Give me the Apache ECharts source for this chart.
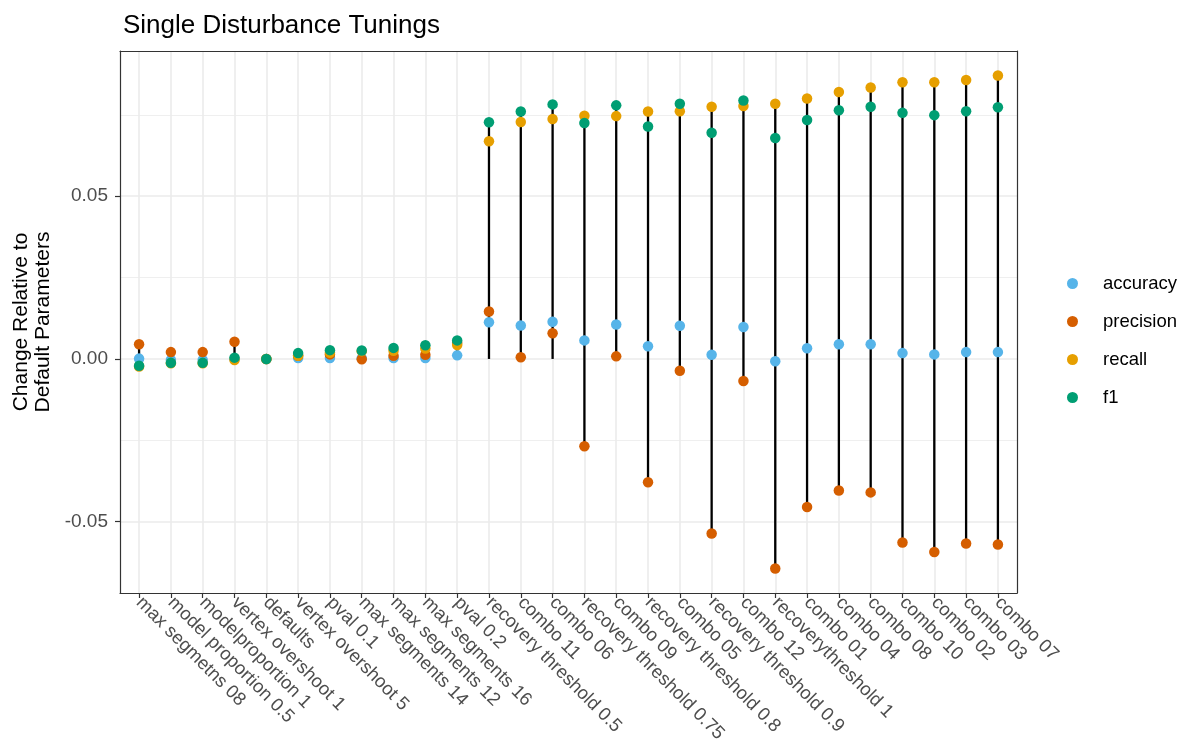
<!DOCTYPE html>
<html>
<head>
<meta charset="utf-8">
<script src="https://cdn.jsdelivr.net/npm/echarts@6/dist/echarts.min.js"></script>
<style>
html,body{margin:0;padding:0;background:#fff;}
#chart{width:1183px;height:743px;}
</style>
</head>
<body>
<div id="chart"></div>
<script>
const categories = ["max segmetns 08","model proportion 0.5","modelproportion 1","vertex overshoot 1","defaults","vertex overshoot 5","pval 0.1","max segments 14","max segments 12","max segments 16","pval 0.2","recovery threshold 0.5","combo 11","combo 06","recovery threshold 0.75","combo 09","recovery threshold 0.8","combo 05","recovery threshold 0.9","combo 12","recoverythreshold 1","combo 01","combo 04","combo 08","combo 10","combo 02","combo 03","combo 07"];
const accuracy = [0.0001,-0.0003,-0.0003,0.0000,0,0.0003,0.0003,0.0002,0.0003,0.0003,0.0011,0.0113,0.0103,0.0114,0.0057,0.0106,0.0039,0.0102,0.0013,0.0098,-0.0007,0.0033,0.0045,0.0045,0.0018,0.0014,0.0021,0.0021];
const precision = [0.0045,0.0021,0.0021,0.0053,0,0.0010,0.0014,-0.0001,0.0010,0.0013,0.0050,0.0146,0.0005,0.0079,-0.0268,0.0008,-0.0379,-0.0036,-0.0536,-0.0068,-0.0644,-0.0455,-0.0404,-0.0410,-0.0564,-0.0593,-0.0567,-0.0570];
const recall = [-0.0023,-0.0013,-0.0013,-0.0003,0,0.0010,0.0019,0.0024,0.0025,0.0032,0.0043,0.0669,0.0728,0.0737,0.0747,0.0746,0.0760,0.0761,0.0775,0.0777,0.0784,0.0800,0.0820,0.0834,0.0850,0.0850,0.0857,0.0871];
const f1 = [-0.0021,-0.0012,-0.0012,0.0004,0,0.0018,0.0027,0.0026,0.0034,0.0042,0.0057,0.0727,0.0760,0.0782,0.0725,0.0779,0.0714,0.0784,0.0695,0.0794,0.0679,0.0734,0.0764,0.0775,0.0756,0.0749,0.0761,0.0773];
const yMajorTicks = [-0.05, 0, 0.05];
const yMinorTicks = [-0.025, 0.025, 0.075];

const seriesDefs = [
  {name:'accuracy', values:accuracy, color:'#56B4E9'},
  {name:'precision', values:precision, color:'#D55E00'},
  {name:'recall', values:recall, color:'#E69F00'},
  {name:'f1', values:f1, color:'#009E73'}
];
const idx = categories.map((c,i)=>i);
const ranges = idx.map(i=>{
  const vals = seriesDefs.map(s=>s.values[i]).concat([0]);
  return [i, Math.min.apply(null, vals), Math.max.apply(null, vals)];
});

const yMin = -0.0719, yMax = 0.0946;
const xMin = -0.6, xMax = categories.length - 1 + 0.6;
const border = '#333333';
const gridCol = '#EBEBEB';

const chart = echarts.init(document.getElementById('chart'), null, {renderer:'canvas'});
const font = 'Liberation Sans, Arial, Helvetica, sans-serif';

const option = {
  backgroundColor:'#ffffff',
  animation:false,
  textStyle:{fontFamily:font},
  title:{text:'Single Disturbance Tunings', left:118, top:8, textStyle:{fontFamily:font, fontSize:26, fontWeight:'normal', color:'#000'}},
  legend:{
    orient:'vertical', left:1062, top:269, itemWidth:11, itemHeight:11, itemGap:19,
    icon:'circle',
    textStyle:{fontFamily:font, fontSize:18.5, color:'#000', padding:[0,0,0,20]},
    data:seriesDefs.map(s=>s.name)
  },
  grid:{left:120, right:166, top:51, bottom:150, containLabel:false, outerBoundsMode:'none', show:false},
  xAxis:[{
    type:'value', min:xMin, max:xMax, minInterval:1, maxInterval:1,
    axisLine:{show:true, onZero:false, lineStyle:{color:border, width:1.2}},
    axisTick:{show:true, length:5, customValues:idx, lineStyle:{color:border, width:1.2}},
    axisLabel:{show:true, customValues:idx, rotate:-45, margin:7, fontSize:18.5, color:'#4D4D4D', fontFamily:font,
      hideOverlap:false,
      formatter:function(v){ const i=Math.round(v); return Math.abs(v-i)<1e-6 ? categories[i] : ''; }},
    splitLine:{show:true, lineStyle:{color:gridCol, width:1.6}}
  },{
    type:'value', position:'top', min:xMin, max:xMax,
    axisLine:{show:true, onZero:false, lineStyle:{color:border, width:1.2}},
    axisTick:{show:false}, axisLabel:{show:false}, splitLine:{show:false}
  }],
  yAxis:[{
    type:'value', min:yMin, max:yMax, minInterval:0.05, maxInterval:0.05,
    name:'Change Relative to\nDefault Parameters', nameLocation:'middle', nameGap:58, nameRotate:90,
    nameTextStyle:{fontFamily:font, fontSize:21, color:'#000', lineHeight:22},
    axisLine:{show:true, onZero:false, lineStyle:{color:border, width:1.2}},
    axisTick:{show:true, length:5, customValues:yMajorTicks, lineStyle:{color:border, width:1.2}},
    axisLabel:{show:true, customValues:yMajorTicks, margin:12, fontSize:19, color:'#4D4D4D', fontFamily:font,
      formatter:function(v){ return v.toFixed(2); }},
    splitLine:{show:true, lineStyle:{color:gridCol, width:1.6}}
  },{
    type:'value', position:'right', min:yMin, max:yMax, minInterval:0.025, maxInterval:0.025,
    axisLine:{show:true, onZero:false, lineStyle:{color:border, width:1.2}},
    axisTick:{show:false, customValues:yMinorTicks},
    axisLabel:{show:false, customValues:yMinorTicks},
    splitLine:{show:true, lineStyle:{color:gridCol, width:0.8}}
  }],
  series:[{
    type:'custom', name:'range', xAxisIndex:0, yAxisIndex:0, z:2, silent:true,
    data:ranges,
    renderItem:function(params, api){
      const p1 = api.coord([api.value(0), api.value(1)]);
      const p2 = api.coord([api.value(0), api.value(2)]);
      return {type:'line', shape:{x1:p1[0], y1:p1[1], x2:p2[0], y2:p2[1]}, style:{stroke:'#000', lineWidth:2.3}};
    }
  }].concat(seriesDefs.map((s,k)=>({
    type:'scatter', name:s.name, xAxisIndex:0, yAxisIndex:0, z:3+k,
    symbol:'circle', symbolSize:10.5,
    itemStyle:{color:s.color, opacity:1},
    data:s.values.map((v,i)=>[i,v])
  })))
};
chart.setOption(option);
</script>
</body>
</html>
